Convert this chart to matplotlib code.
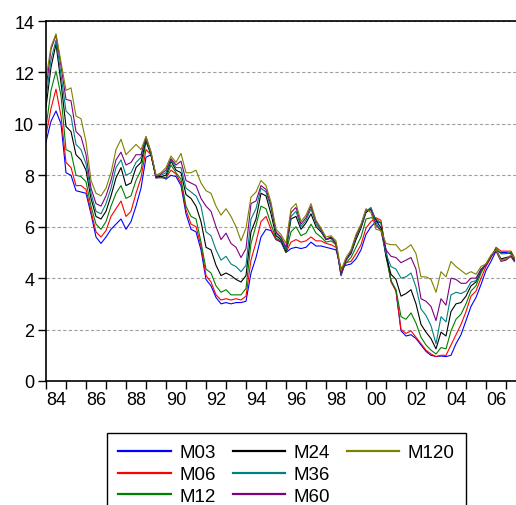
import numpy as np
import matplotlib
matplotlib.use("Agg")
import matplotlib.pyplot as plt
from matplotlib.lines import Line2D

plt.rcParams['font.family'] = ['Liberation Sans', 'DejaVu Sans']

# quarterly observations, 1984Q1 .. mid 2007
years = np.append(np.arange(1984, 2007.3, 0.25), 2007.42)

m03 = [9.3, 10.1, 10.5, 10.0, 8.1, 8.0, 7.4, 7.35, 7.3, 6.5, 5.6, 5.35,
       5.6, 5.9, 6.1, 6.3, 5.9, 6.2, 6.8, 7.5, 8.7, 8.8, 7.9, 7.95,
       7.85, 8.0, 7.95, 7.6, 6.5, 5.9, 5.8, 5.1, 3.95, 3.7, 3.25, 3.0,
       3.05, 3.0, 3.05, 3.05, 3.1, 4.2, 4.8, 5.6, 5.9, 5.85, 5.5, 5.4,
       5.0, 5.15, 5.2, 5.15, 5.2, 5.4, 5.25, 5.25, 5.2, 5.15, 5.1, 4.4,
       4.5, 4.55, 4.75, 5.1, 5.7, 6.0, 6.2, 6.15, 5.1, 3.9, 3.5, 1.95,
       1.75, 1.8, 1.65, 1.4, 1.15, 1.0, 0.95, 0.97, 0.95, 1.0, 1.45, 1.8,
       2.35, 2.9, 3.25, 3.75, 4.3, 4.65, 5.05, 5.0, 5.0, 4.95, 4.7]
m06 = [9.55, 10.6, 11.35, 10.3, 8.5, 8.3, 7.6, 7.6, 7.45, 6.6, 5.8, 5.6,
       5.85, 6.4, 6.7, 7.0, 6.4, 6.6, 7.3, 7.9, 9.0, 8.8, 7.95, 7.95,
       7.9, 8.2, 8.05, 7.7, 6.65, 6.1, 6.0, 5.25, 4.1, 3.85, 3.35, 3.15,
       3.2, 3.15, 3.2, 3.15, 3.3, 4.7, 5.4, 6.2, 6.4, 5.9, 5.5, 5.45,
       5.0, 5.4, 5.5, 5.4, 5.45, 5.6, 5.45, 5.45, 5.35, 5.3, 5.2, 4.3,
       4.6, 4.65, 4.95, 5.3, 5.95, 6.2, 6.35, 6.25, 4.95, 3.85, 3.5, 2.0,
       1.85, 1.95, 1.7, 1.45, 1.2, 1.05, 0.95, 1.0, 1.0, 1.4, 1.8, 2.2,
       2.7, 3.3, 3.5, 4.0, 4.45, 4.8, 5.2, 5.05, 5.05, 5.05, 4.8]
m12 = [9.85, 11.3, 12.05, 11.1, 9.0, 8.9, 8.0, 7.95, 7.75, 6.8, 6.1, 5.9,
       6.2, 6.8, 7.3, 7.6, 7.1, 7.2, 7.8, 8.2, 9.3, 8.8, 7.9, 7.9,
       7.9, 8.4, 8.1, 7.85, 6.8, 6.4, 6.3, 5.4, 4.35, 4.2, 3.7, 3.45,
       3.55, 3.35, 3.35, 3.35, 3.6, 5.35, 6.05, 6.8, 6.7, 6.1, 5.55, 5.45,
       5.0, 5.8, 6.0, 5.65, 5.75, 6.1, 5.75, 5.6, 5.4, 5.45, 5.3, 4.2,
       4.6, 4.8, 5.2, 5.6, 6.3, 6.35, 6.3, 6.15, 4.85, 3.9, 3.55, 2.5,
       2.4, 2.65, 2.25, 1.7, 1.4, 1.2, 1.05, 1.3, 1.25, 1.95, 2.4, 2.6,
       3.0, 3.5, 3.7, 4.2, 4.55, 4.85, 5.15, 4.95, 4.95, 5.0, 4.75]
m24 = [10.65, 12.2, 13.1, 11.6, 9.9, 9.7, 8.8, 8.6, 8.2, 7.1, 6.4, 6.3,
       6.6, 7.2, 7.9, 8.3, 7.6, 7.7, 8.3, 8.5, 9.4, 8.8, 7.95, 7.95,
       8.0, 8.55, 8.2, 8.1, 7.25, 7.1, 6.8, 6.2, 5.2, 5.1, 4.5, 4.1,
       4.2, 4.1, 3.95, 3.85, 4.1, 5.8, 6.3, 7.3, 7.2, 6.5, 5.65, 5.5,
       5.05, 6.3, 6.4, 5.9, 6.15, 6.5, 6.0, 5.8, 5.5, 5.55, 5.35, 4.1,
       4.7, 4.95, 5.5, 5.95, 6.55, 6.7, 6.25, 5.95, 4.85, 4.15, 3.95, 3.3,
       3.4, 3.55, 3.0, 2.2, 1.9, 1.65, 1.25, 1.9, 1.75, 2.7, 3.0, 3.05,
       3.3, 3.7, 3.85, 4.3, 4.55, 4.85, 5.1, 4.75, 4.8, 4.85, 4.65]
m36 = [10.95, 12.5, 13.25, 11.9, 10.5, 10.3, 9.2, 9.0, 8.45, 7.3, 6.6, 6.5,
       6.9, 7.5, 8.3, 8.6, 8.0, 8.1, 8.5, 8.7, 9.45, 8.85, 8.0, 8.0,
       8.1, 8.6, 8.3, 8.3, 7.5, 7.35, 7.2, 6.8, 5.8, 5.65, 5.1, 4.7,
       4.85, 4.55, 4.45, 4.25, 4.5, 6.3, 6.7, 7.5, 7.35, 6.75, 5.75, 5.55,
       5.1, 6.4, 6.6, 6.0, 6.25, 6.7, 6.1, 5.85, 5.5, 5.6, 5.35, 4.1,
       4.7, 5.0, 5.6, 6.0, 6.6, 6.75, 6.15, 5.85, 4.95, 4.45, 4.35, 4.0,
       4.05, 4.2, 3.65, 2.8, 2.55, 2.15, 1.45, 2.5, 2.3, 3.35, 3.45, 3.4,
       3.5, 3.85, 3.9, 4.35, 4.5, 4.85, 5.1, 4.7, 4.75, 4.85, 4.65]
m60 = [11.35, 12.9, 13.45, 12.25, 10.95, 10.9, 9.7, 9.5, 8.8, 7.5, 6.9, 6.8,
       7.2, 7.8, 8.6, 8.9, 8.4, 8.5, 8.8, 8.8, 9.5, 8.9, 7.9, 8.05,
       8.2, 8.65, 8.4, 8.55, 7.8, 7.7, 7.6, 7.1, 6.8, 6.6, 6.0, 5.5,
       5.75, 5.35, 5.2, 4.8, 5.15, 6.9, 7.0, 7.6, 7.45, 6.85, 5.8, 5.6,
       5.2, 6.55, 6.75, 6.1, 6.35, 6.8, 6.2, 5.9, 5.5, 5.6, 5.35, 4.15,
       4.7, 5.05, 5.65, 6.05, 6.65, 6.65, 6.05, 5.85, 5.1, 4.85, 4.8, 4.6,
       4.7, 4.8, 4.35, 3.2, 3.1, 2.9, 2.35, 3.2, 2.95, 4.0, 3.95, 3.8,
       3.8, 4.0, 4.0, 4.35, 4.5, 4.85, 5.05, 4.65, 4.7, 4.85, 4.7]
m120 = [11.75, 13.0, 13.5, 12.4, 11.3, 11.4, 10.3, 10.2, 9.3, 7.8, 7.3, 7.2,
        7.5, 8.1, 9.0, 9.4, 8.8, 9.0, 9.2, 9.0, 9.5, 8.9, 8.0, 8.1,
        8.3, 8.75, 8.5, 8.85, 8.1, 8.1, 8.2, 7.7, 7.4, 7.3, 6.8, 6.45,
        6.7, 6.4, 6.0, 5.45, 5.95, 7.15, 7.35, 7.8, 7.6, 6.95, 5.9, 5.7,
        5.35, 6.7, 6.9, 6.2, 6.45, 6.9, 6.25, 5.95, 5.6, 5.65, 5.45, 4.3,
        4.8, 5.1, 5.7, 6.1, 6.7, 6.55, 5.9, 5.85, 5.35, 5.3, 5.3, 5.05,
        5.15, 5.3, 4.95, 4.05, 4.05, 3.95, 3.45, 4.25, 4.05, 4.65, 4.45, 4.3,
        4.15, 4.25, 4.15, 4.45, 4.55, 4.9, 5.1, 4.7, 4.75, 4.9, 4.8]

names = ["M03", "M06", "M12", "M24", "M36", "M60", "M120"]
series = [m03, m06, m12, m24, m36, m60, m120]
colors = ["#0000ff", "#ff0000", "#008000", "#000000", "#008080", "#800080", "#808000"]

major_years = list(range(1984, 2007, 2))
tick_labels = ["84", "86", "88", "90", "92", "94", "96", "98", "00", "02", "04", "06"]

fig = plt.figure(figsize=(5.16, 5.06), dpi=100)
ax = fig.add_axes([46 / 516, 124 / 506, 476 / 516, 360 / 506])

lines = []
for name, vals, c in zip(names, series, colors):
    ln, = ax.plot(years, vals, color=c, linewidth=0.8, label=name)
    lines.append(ln)

ax.set_xlim(1984, 1984 + 476 / 20)
ax.set_ylim(0, 14)
ax.set_yticks(range(0, 15, 2))
ax.set_xticks(major_years)
ax.set_xticklabels(tick_labels, ha="left")
ax.set_xticks(range(1985, 2008, 2), minor=True)

ax.yaxis.grid(True, linestyle=(0, (3, 2)), color="#a0a0a0", linewidth=0.8)
ax.set_axisbelow(True)

ax.tick_params(axis="both", which="both", direction="out", length=5.5, width=1,
               labelsize=13, color="black")
ax.tick_params(axis="x", pad=2)
ax.tick_params(axis="y", pad=3)
for s in ax.spines.values():
    s.set_linewidth(1.2)

# legend laid out as 3 columns: M03/M06/M12, M24/M36/M60, M120
blank = Line2D([], [], linestyle="none")
handles = lines[:6] + [lines[6], blank, blank]
labels = names[:6] + ["M120", "", ""]
leg = fig.legend(handles, labels, ncol=3, loc="upper left",
                 bbox_to_anchor=(107 / 516, 1 - 434 / 506),
                 fontsize=13.5, frameon=True, fancybox=False, shadow=False,
                 edgecolor="black", framealpha=1, handlelength=2.8,
                 handletextpad=0.45, columnspacing=0.9, labelspacing=0.25,
                 borderpad=0.6, borderaxespad=0)
leg.get_frame().set_linewidth(1.0)
for h in leg.legend_handles:
    h.set_linewidth(1.6)

fig.savefig("out.png", dpi=100)
